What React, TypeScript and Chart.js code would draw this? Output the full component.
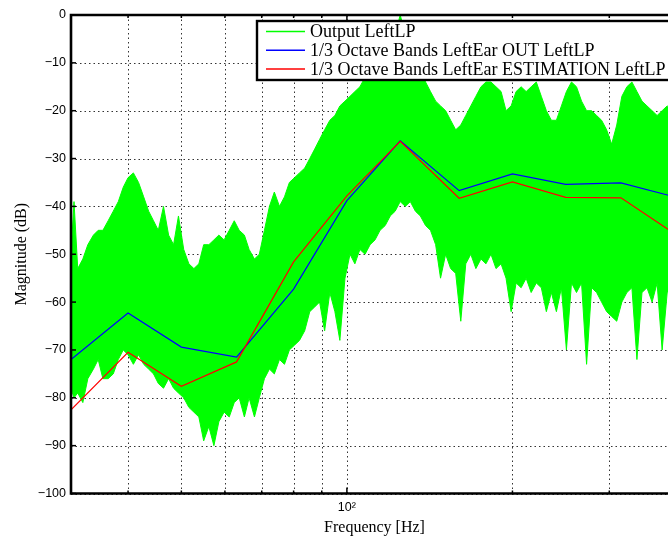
import React, { useEffect, useRef } from 'react';
import { Chart, registerables } from 'chart.js';

Chart.register(...registerables);

// 1/3 octave band centre frequencies (Hz)
const bandFreqHz = [31.5, 40, 50, 63, 80, 100, 125, 160, 200, 250, 315, 400];
// 1/3 Octave Bands LeftEar OUT LeftLP (dB)
const outLeftEarDb = [-72.0, -62.3, -69.4, -71.5, -57.3, -38.8, -26.3, -36.7, -33.2, -35.4, -35.1, -38.2];
// 1/3 Octave Bands LeftEar ESTIMATION LeftLP (dB)
const estLeftEarDb = [-82.5, -70.5, -77.6, -72.5, -51.6, -37.8, -26.4, -38.3, -34.9, -38.1, -38.2, -46.2];

// Output LeftLP spectrum, read as an upper / lower envelope (Hz, dB)
const spectrumFreqHz = [
  31.5, 31.9, 32.4, 33.1, 33.8, 34.6, 35.3, 36.0, 36.8, 37.6,
  38.4, 39.2, 40.0, 40.9, 41.8, 42.7, 43.6, 44.5, 45.4, 46.4,
  47.4, 48.4, 49.4, 50.5, 51.6, 52.7, 53.8, 54.9, 56.1, 57.3,
  58.5, 59.8, 61.1, 62.4, 63.7, 65.1, 66.4, 67.9, 69.3, 70.8,
  72.3, 73.8, 75.4, 77.0, 78.6, 80.3, 82.0, 83.8, 85.6, 87.4,
  89.2, 91.1, 93.1, 95.1, 97.1, 99.2, 101.3, 103.4, 105.6, 107.9,
  110.2, 112.5, 114.9, 117.4, 119.9, 122.4, 125.0, 127.7, 130.4, 133.2,
  136.0, 139.0, 141.9, 145.0, 148.0, 151.2, 154.4, 157.7, 161.1, 164.5,
  168.0, 171.6, 175.3, 179.0, 182.8, 186.7, 190.7, 194.7, 198.9, 203.1,
  207.4, 211.8, 216.3, 221.0, 225.7, 230.5, 235.4, 240.4, 245.5, 250.7,
  256.1, 261.5, 267.1, 272.8, 278.6, 284.5, 290.5, 296.7, 303.0, 309.5,
  316.2, 322.9, 329.8, 336.8, 344.0, 351.3, 358.9, 366.5, 374.3, 382.3,
  390.5, 400,
];
const spectrumUpperDb = [
  -50, -39, -53, -51, -48, -46, -45, -45, -43, -41,
  -39, -36, -34, -33, -35, -38, -41, -43, -45, -40,
  -46, -48, -42, -49, -52, -53, -52, -48, -48, -47,
  -46, -47, -45, -43, -45, -46, -49, -51, -50, -45,
  -40, -37, -40, -38, -35, -34, -33, -32, -30, -28,
  -26, -24, -22, -21, -19, -18, -17, -16, -15, -13,
  -11, -9, -8, -7, -5, -4, 0, -4, -6, -8,
  -11, -14, -16, -18, -19, -20, -22, -24, -23, -21,
  -19, -17, -15, -14, -14, -15, -16, -20, -19, -16,
  -15, -16, -15, -14, -17, -20, -22, -22, -19, -16,
  -14, -15, -18, -20, -20, -21, -22, -24, -27, -23,
  -17, -15, -14, -16, -18, -19, -20, -21, -20, -19,
  -20, -21,
];
const spectrumLowerDb = [
  -78, -80, -79, -81, -76, -74, -72, -76, -76, -75,
  -72, -70, -71, -73, -71, -73, -74, -75, -77, -78,
  -76, -78, -79, -80, -82, -83, -84, -89, -86, -90,
  -85, -83, -84, -81, -80, -84, -80, -84, -80, -76,
  -74, -75, -72, -73, -70, -69, -68, -66, -62, -61,
  -60, -66, -58, -62, -68, -55, -50, -52, -49, -50,
  -48, -47, -45, -44, -42, -41, -39, -40, -39, -41,
  -42, -44, -45, -48, -55, -50, -53, -54, -64, -52,
  -50, -53, -51, -52, -50, -53, -52, -55, -62, -56,
  -57, -55, -58, -56, -57, -62, -58, -62, -57, -70,
  -56, -58, -56, -73, -57, -58, -60, -62, -63, -64,
  -60, -58, -57, -72, -58, -57, -60, -56, -70, -58,
  -57, -58,
];

const xGridHz = [40, 50, 60, 70, 80, 90, 100, 200, 300];
const X_MIN_HZ = 31.5;
const X_MAX_HZ = 400;
const Y_MIN_DB = -100;
const Y_MAX_DB = 0;
const Y_STEP_DB = 10;
const legendLabels = [
  'Output LeftLP',
  '1/3 Octave Bands LeftEar OUT LeftLP',
  '1/3 Octave Bands LeftEar ESTIMATION LeftLP',
];
const legendColors = ['#00ff00', '#0000ff', '#ff0000'];

const toPoints = (xs: number[], ys: number[]) => xs.map((x, i) => ({ x, y: ys[i] }));

const gridPlugin = {
  id: 'dottedGrid',
  beforeDatasetsDraw(chart: any) {
    const { ctx, chartArea: a, scales } = chart;
    ctx.save();
    ctx.strokeStyle = '#333';
    ctx.lineWidth = 1;
    ctx.setLineDash([1.5, 3]);
    for (const v of xGridHz) {
      const px = Math.round(scales.x.getPixelForValue(v)) + 0.5;
      ctx.beginPath();
      ctx.moveTo(px, a.bottom);
      ctx.lineTo(px, a.top);
      ctx.stroke();
    }
    for (const t of scales.y.ticks) {
      const py = Math.round(scales.y.getPixelForValue(t.value)) + 0.5;
      ctx.beginPath();
      ctx.moveTo(a.left, py);
      ctx.lineTo(a.right, py);
      ctx.stroke();
    }
    ctx.restore();
  },
};

const framePlugin = {
  id: 'matlabFrame',
  afterDraw(chart: any) {
    const { ctx, chartArea: a, scales } = chart;
    const xs = scales.x;
    const ys = scales.y;
    ctx.save();
    ctx.setLineDash([]);
    ctx.strokeStyle = '#000';
    const seg = (x1: number, y1: number, x2: number, y2: number) => {
      ctx.beginPath();
      ctx.moveTo(x1, y1);
      ctx.lineTo(x2, y2);
      ctx.stroke();
    };
    // tick marks
    ctx.lineWidth = 1.5;
    for (const v of xGridHz) {
      const px = xs.getPixelForValue(v);
      const len = v === 100 ? 6 : 3;
      seg(px, a.bottom, px, a.bottom - len);
      seg(px, a.top, px, a.top + len);
    }
    for (const t of ys.ticks) {
      const py = ys.getPixelForValue(t.value);
      seg(a.left, py, a.left + 5, py);
      seg(a.right, py, a.right - 5, py);
    }
    // frame
    ctx.lineWidth = 2.6;
    ctx.beginPath();
    ctx.rect(a.left, a.top, a.right - a.left, a.bottom - a.top);
    ctx.stroke();

    // legend box
    const bx = a.left + 186;
    const by = a.top + 6;
    const bw = a.right - 7 - bx;
    const bh = 59;
    ctx.fillStyle = '#fff';
    ctx.fillRect(bx, by, bw, bh);
    ctx.lineWidth = 2.4;
    ctx.strokeStyle = '#000';
    ctx.strokeRect(bx, by, bw, bh);
    ctx.font = '18px "Liberation Serif", "Times New Roman", serif';
    ctx.textBaseline = 'middle';
    ctx.textAlign = 'left';
    for (let i = 0; i < legendLabels.length; i++) {
      const ry = by + 10.5 + i * 18.7;
      ctx.strokeStyle = legendColors[i];
      ctx.lineWidth = 1.5;
      seg(bx + 9, ry, bx + 48, ry);
      ctx.fillStyle = '#000';
      ctx.fillText(legendLabels[i], bx + 53, ry + 1);
    }
    ctx.restore();
  },
};

export default function App() {
  const canvasRef = useRef<HTMLCanvasElement | null>(null);

  useEffect(() => {
    const canvas = canvasRef.current;
    if (!canvas) return;
    const chart = new Chart(canvas, {
      type: 'line',
      data: {
        datasets: [
          {
            label: legendLabels[2],
            data: toPoints(bandFreqHz, estLeftEarDb),
            borderColor: '#ff0000',
            borderWidth: 1.2,
            pointRadius: 0,
            fill: false,
            tension: 0,
            order: 0,
          },
          {
            label: legendLabels[1],
            data: toPoints(bandFreqHz, outLeftEarDb),
            borderColor: '#0000ff',
            borderWidth: 1.2,
            pointRadius: 0,
            fill: false,
            tension: 0,
            order: 1,
          },
          {
            label: 'Output LeftLP (lower)',
            data: toPoints(spectrumFreqHz, spectrumLowerDb),
            borderColor: '#00ff00',
            borderWidth: 1,
            pointRadius: 0,
            fill: false,
            tension: 0,
            order: 5,
          },
          {
            label: legendLabels[0],
            data: toPoints(spectrumFreqHz, spectrumUpperDb),
            borderColor: '#00ff00',
            backgroundColor: '#00ff00',
            borderWidth: 1,
            pointRadius: 0,
            fill: '-1',
            tension: 0,
            order: 4,
          },
        ],
      },
      options: {
        responsive: false,
        animation: false,
        devicePixelRatio: 1,
        layout: { padding: { top: 15, right: 12, left: 0, bottom: 0 } },
        plugins: {
          legend: { display: false },
          tooltip: { enabled: false },
        },
        scales: {
          x: {
            type: 'logarithmic',
            min: X_MIN_HZ,
            max: X_MAX_HZ,
            afterBuildTicks: (scale: any) => {
              scale.ticks = xGridHz.map((v) => ({ value: v }));
            },
            afterFit: (scale: any) => {
              scale.height = 47.5;
            },
            grid: { display: false, drawTicks: false },
            border: { display: false },
            ticks: {
              autoSkip: false,
              maxRotation: 0,
              minRotation: 0,
              padding: 7,
              color: '#000',
              font: { family: '"Liberation Sans", Arial, sans-serif', size: 12.5 },
              callback: (value: any) => (Number(value) === 100 ? '10²' : ''),
            },
            title: {
              display: true,
              text: 'Frequency [Hz]',
              color: '#000',
              font: { family: '"Liberation Serif", "Times New Roman", serif', size: 16 },
              padding: { top: 0, bottom: 3.5 },
            },
          },
          y: {
            type: 'linear',
            min: Y_MIN_DB,
            max: Y_MAX_DB,
            afterFit: (scale: any) => {
              scale.width = 71;
            },
            grid: { display: false, drawTicks: false },
            border: { display: false },
            ticks: {
              stepSize: Y_STEP_DB,
              padding: 5,
              color: '#000',
              font: { family: '"Liberation Sans", Arial, sans-serif', size: 12.5 },
              callback: (value: any) => {
                const v = Number(value);
                return v < 0 ? '\u2212' + Math.abs(v) : String(v);
              },
            },
            title: {
              display: true,
              text: 'Magnitude (dB)',
              color: '#000',
              font: { family: '"Liberation Serif", "Times New Roman", serif', size: 16 },
              padding: { top: 12, bottom: 0 },
            },
          },
        },
      },
      plugins: [gridPlugin, framePlugin],
    } as any);
    return () => chart.destroy();
  }, []);

  return (
    <div
      style={{
        position: 'fixed',
        left: 0,
        top: 0,
        width: 668,
        height: 541,
        overflow: 'hidden',
        background: '#fff',
      }}
    >
      <canvas ref={canvasRef} width={690} height={541} style={{ width: 690, height: 541, display: 'block' }} />
    </div>
  );
}
